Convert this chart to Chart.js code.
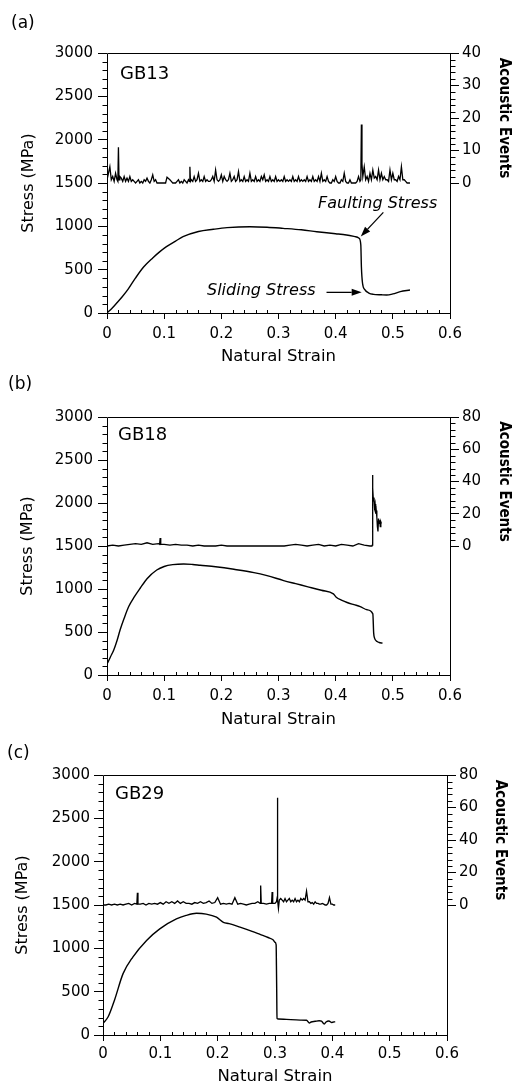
<!DOCTYPE html>
<html>
<head>
<meta charset="utf-8">
<script src="https://cdn.jsdelivr.net/npm/chart.js@4.4.1/dist/chart.umd.min.js"></script>
<style>
html,body{margin:0;padding:0;background:#fff;}
body{width:517px;height:1082px;position:relative;overflow:hidden;font-family:"DejaVu Sans",sans-serif;color:#000;}
canvas{position:absolute;left:0;display:block;}
.lbl{position:absolute;white-space:nowrap;line-height:1;color:#000;}
.pl{font-size:17px;}
.gb{font-size:18px;}
.an{font-size:16px;font-style:italic;}
</style>
</head>
<body>
<canvas id="cA" width="517" height="368" style="top:0px"></canvas>
<canvas id="cB" width="517" height="362" style="top:368px"></canvas>
<canvas id="cC" width="517" height="352" style="top:730px"></canvas>

<div class="lbl pl" id="plA" style="left:11px;top:14px"></div>
<div class="lbl pl" id="plB" style="left:8px;top:375px"></div>
<div class="lbl pl" id="plC" style="left:7px;top:744px"></div>
<div class="lbl gb" id="gbA" style="left:120px;top:63.8px"></div>
<div class="lbl gb" id="gbB" style="left:118px;top:425.3px"></div>
<div class="lbl gb" id="gbC" style="left:115px;top:784.3px"></div>
<div class="lbl an" style="left:318px;top:194.8px">Faulting Stress</div>
<div class="lbl an" style="left:207px;top:282.3px">Sliding Stress</div>

<script>
// ---------------- DATA ----------------
const xTickValues = [0, 0.1, 0.2, 0.3, 0.4, 0.5, 0.6];
const xTickLabels = ['0', '0.1', '0.2', '0.3', '0.4', '0.5', '0.6'];
const stressTickValues = [0, 500, 1000, 1500, 2000, 2500, 3000];
const stressTickLabels = ['0', '500', '1000', '1500', '2000', '2500', '3000'];
const aeTickValuesA = [0, 10, 20, 30, 40];
const aeTickLabelsA = ['0', '10', '20', '30', '40'];
const aeTickValuesBC = [0, 20, 40, 60, 80];
const aeTickLabelsBC = ['0', '20', '40', '60', '80'];
const panelLabels = ['(a)', '(b)', '(c)'];
const sampleNames = ['GB13', 'GB18', 'GB29'];

// GB13 stress (MPa) vs natural strain
const stressStrainA = [0, 0.008, 0.017, 0.027, 0.037, 0.05, 0.064, 0.08, 0.092, 0.104, 0.12, 0.133, 0.16, 0.186, 0.21, 0.25, 0.28, 0.308, 0.34, 0.367, 0.4, 0.419, 0.435, 0.441, 0.444, 0.445, 0.447, 0.451, 0.458, 0.466, 0.48, 0.489, 0.5, 0.513, 0.53];
const stressA = [0, 50, 115, 190, 275, 405, 530, 635, 705, 765, 830, 880, 940, 966, 985, 996, 990, 977, 960, 938, 915, 900, 880, 862, 785, 534, 343, 270, 230, 215, 210, 208, 220, 246, 265];
// GB13 acoustic events
const aeStrainA = [
  0, 0.0025, 0.005, 0.0075, 0.01, 0.0125, 0.015, 0.0175, 0.019, 0.02, 0.021, 0.0225, 0.025, 0.0275, 0.03, 0.0325, 0.035, 0.0375, 0.04, 0.0425, 0.045, 0.0475,
  0.05, 0.0525, 0.055, 0.0575, 0.06, 0.0625, 0.065, 0.0675, 0.07, 0.0725, 0.075, 0.0775, 0.08, 0.0825, 0.085, 0.0875, 0.09, 0.0925, 0.095, 0.0975,
  0.1, 0.1025, 0.105, 0.1075, 0.11, 0.1125, 0.115, 0.1175, 0.12, 0.1225, 0.125, 0.1275, 0.13, 0.1325, 0.135, 0.1375, 0.14, 0.1425, 0.144, 0.145, 0.146, 0.1475,
  0.15, 0.1525, 0.155, 0.1575, 0.16, 0.1625, 0.165, 0.1675, 0.17, 0.1725, 0.175, 0.1775, 0.18, 0.1825, 0.185, 0.1875, 0.19, 0.1925, 0.195, 0.1975,
  0.2, 0.2025, 0.205, 0.2075, 0.21, 0.2125, 0.215, 0.2175, 0.22, 0.2225, 0.225, 0.2275, 0.23, 0.2325, 0.235, 0.2375, 0.24, 0.2425, 0.245, 0.2475,
  0.25, 0.2525, 0.255, 0.2575, 0.26, 0.2625, 0.265, 0.2675, 0.27, 0.2725, 0.275, 0.2775, 0.28, 0.2825, 0.285, 0.2875, 0.29, 0.2925, 0.295, 0.2975,
  0.3, 0.3025, 0.305, 0.3075, 0.31, 0.3125, 0.315, 0.3175, 0.32, 0.3225, 0.325, 0.3275, 0.33, 0.3325, 0.335, 0.3375, 0.34, 0.3425, 0.345, 0.3475,
  0.35, 0.3525, 0.355, 0.3575, 0.36, 0.3625, 0.365, 0.3675, 0.37, 0.3725, 0.375, 0.3775, 0.38, 0.3825, 0.385, 0.3875, 0.39, 0.3925, 0.395, 0.3975,
  0.4, 0.4025, 0.405, 0.4075, 0.41, 0.4125, 0.415, 0.4175, 0.42, 0.4225, 0.425, 0.4275, 0.43, 0.4325, 0.435, 0.4375, 0.44, 0.4425, 0.444, 0.445, 0.446, 0.4475,
  0.45, 0.4525, 0.455, 0.4575, 0.46, 0.4625, 0.465, 0.4675, 0.47, 0.4725, 0.475, 0.4775, 0.48, 0.4825, 0.485, 0.4875, 0.49, 0.4925, 0.495, 0.4975,
  0.5, 0.5025, 0.505, 0.5075, 0.51, 0.5125, 0.515, 0.5175, 0.52, 0.5225, 0.525, 0.5275, 0.53];
const aeA = [
  1, 3, 5, 1, 2, 0.5, 3, 1, 0.5, 11, 1, 2, 1.5, 0.5, 2, 0.5, 1.5, 0.5, 2, 0.5, 1, 0.5,
  0, 0.5, 1, 0, 0.5, 0, 1, 0.5, 1.5, 0.5, 0, 1, 2.5, 0.5, 1, 0, 0, 0, 0, 0,
  0, 0, 1.8, 1.4, 1, 0.5, 0, 0, 0, 0.5, 1, 0, 0.5, 0, 1, 0.5, 0, 1, 0.5, 5, 0.5, 1,
  0.5, 2, 0.5, 1, 3, 0.5, 1, 0.5, 2, 0.5, 1, 0.5, 0.5, 1, 2, 0.5, 4, 1, 0.5, 1,
  2.5, 0.5, 2, 1, 0.5, 1, 3, 0.5, 1, 2, 0.5, 1, 3.5, 0.5, 1, 0.5, 2, 0.5, 1, 0.5,
  3, 0.5, 1, 0.5, 2, 0.5, 1, 0.5, 2, 1, 2.5, 0.5, 1, 0.5, 2, 0.5, 1, 0.5, 2, 0.5,
  1, 0.5, 1, 0.5, 2, 0.5, 1, 0.5, 1, 0.5, 2, 0.5, 1, 0.5, 2, 0.5, 1, 0.5, 1, 0.5,
  2, 0.5, 1, 0.5, 2, 0.5, 1, 0.5, 2, 0.5, 3, 0.5, 1, 0.5, 2, 0.5, 0, 0, 1, 0.5,
  2, 0.5, 0, 0, 1, 0.5, 3, 0.5, 0, 0, 1, 0, 0, 0, 0, 0.5, 2, 0.5, 1, 18, 6, 2,
  5, 1, 2, 0.5, 3, 1, 4, 1.5, 2, 1, 4, 1, 3, 1, 2, 1, 1, 0.5, 4, 1,
  3, 1, 1, 0.5, 2, 1, 5, 1, 1, 0.5, 0, 0, 0];

// GB18
const stressStrainB = [0.001, 0.006, 0.012, 0.018, 0.023, 0.03, 0.038, 0.048, 0.058, 0.07, 0.087, 0.1, 0.115, 0.134, 0.15, 0.163, 0.19, 0.222, 0.257, 0.28, 0.309, 0.33, 0.35, 0.375, 0.396, 0.401, 0.41, 0.42, 0.432, 0.443, 0.455, 0.465, 0.4665, 0.468, 0.4725, 0.476, 0.482];
const stressB = [139, 210, 294, 410, 526, 660, 796, 910, 1009, 1120, 1221, 1262, 1283, 1291, 1285, 1276, 1258, 1229, 1191, 1155, 1098, 1062, 1028, 985, 943, 905, 870, 843, 818, 796, 758, 711, 487, 429, 390, 378, 371];
const aeStrainB = [
  0, 0.01, 0.02, 0.03, 0.04, 0.05, 0.06, 0.07, 0.08, 0.09,
  0.092, 0.093, 0.094, 0.1, 0.11, 0.12, 0.13, 0.14, 0.15, 0.16,
  0.17, 0.18, 0.19, 0.2, 0.21, 0.22, 0.23, 0.24, 0.25, 0.26,
  0.27, 0.28, 0.29, 0.3, 0.31, 0.32, 0.33, 0.34, 0.35, 0.36,
  0.37, 0.38, 0.39, 0.4, 0.41, 0.42, 0.43, 0.44, 0.45, 0.46,
  0.4635, 0.464, 0.4645, 0.465, 0.466, 0.467, 0.468, 0.469, 0.47, 0.471,
  0.472, 0.473, 0.474, 0.475, 0.476, 0.477, 0.478, 0.479, 0.48];
const aeB = [
  0, 0.5, 0, 0.5, 1, 1.5, 1, 2, 1, 1.5,
  1, 5, 1, 1, 0.5, 1, 0.5, 0.5, 0, 0.5,
  0, 0, 0, 0.5, 0, 0, 0, 0, 0, 0,
  0, 0, 0, 0, 0, 0.5, 1, 0.5, 0, 0.5,
  1, 0, 0.5, 0, 1, 0.5, 0, 1.5, 0.5, 0,
  0, 0.5, 44, 36, 28, 30, 24, 26, 20, 22,
  18, 12, 9, 17, 14, 16, 12, 15, 14];

// GB29
const stressStrainC = [0, 0.009, 0.02, 0.035, 0.052, 0.076, 0.099, 0.128, 0.145, 0.163, 0.18, 0.198, 0.21, 0.22, 0.239, 0.26, 0.274, 0.288, 0.297, 0.3, 0.302, 0.3025, 0.303, 0.3035, 0.306, 0.32, 0.344, 0.355, 0.36, 0.363, 0.37, 0.377, 0.381, 0.386, 0.389, 0.394, 0.399, 0.405];
const stressC = [134, 210, 402, 708, 899, 1091, 1225, 1339, 1380, 1404, 1395, 1359, 1300, 1285, 1244, 1195, 1160, 1125, 1096, 1070, 1040, 800, 500, 193, 185, 180, 172, 170, 138, 150, 158, 165, 160, 127, 150, 162, 145, 155];
const aeStrainC = [
  0, 0.005, 0.01, 0.015, 0.02, 0.025, 0.03, 0.035, 0.04, 0.045,
  0.05, 0.055, 0.059, 0.06, 0.061, 0.065, 0.07, 0.075, 0.08, 0.085, 0.09, 0.095,
  0.1, 0.105, 0.11, 0.115, 0.12, 0.125, 0.13, 0.135, 0.14, 0.145,
  0.15, 0.155, 0.16, 0.165, 0.17, 0.175, 0.18, 0.185, 0.19, 0.195,
  0.2, 0.205, 0.21, 0.215, 0.22, 0.225, 0.23, 0.235, 0.24, 0.245,
  0.25, 0.255, 0.26, 0.265, 0.27, 0.274, 0.275, 0.276, 0.28, 0.285, 0.29, 0.294, 0.295, 0.296,
  0.3, 0.3025, 0.303, 0.3035, 0.304, 0.3045, 0.305, 0.306, 0.3075, 0.31, 0.3125, 0.315, 0.3175, 0.32, 0.3225, 0.325, 0.3275, 0.33, 0.3325, 0.335, 0.3375,
  0.34, 0.3425, 0.345, 0.3475, 0.35, 0.3525, 0.355, 0.3575, 0.36, 0.3625, 0.365, 0.3675, 0.37, 0.3725, 0.375, 0.3775, 0.38, 0.3825, 0.385, 0.3875,
  0.39, 0.3925, 0.395, 0.3975, 0.4, 0.4025, 0.405];
const aeC = [
  0, 0, 0.5, 0, 0.5, 0, 0.5, 0, 0.5, 1,
  0, 1, 0.5, 7.5, 0.5, 0.5, 1, 0, 1, 0.5, 1, 0.5,
  1.5, 0.5, 2, 1, 2, 1, 2.5, 1, 2, 1,
  1, 0.5, 1.5, 1, 2, 1, 1.5, 2.5, 1, 1.5,
  4.5, 0.5, 1, 0.5, 1, 0.5, 4.5, 0.5, 1, 0.5,
  0, 0.5, 1, 1, 2, 1, 12, 1, 1, 0.5, 1, 1, 8, 1,
  1, 2, 2, 4, 66, 10, 3, -2, 3, 4, 3, 2, 4, 2, 3, 4, 2, 3, 2, 4, 2,
  3, 2, 4, 3, 4, 3, 8.5, 2, 2, 1, 1.5, 0.5, 2, 1, 1, 0.5, 0.5, 1, 0.5, 0,
  0, 1, 4.5, 0.5, 0.5, 0, 0];

// Annotation arrows on GB13 (data coordinates: strain, stress)
const faultArrow = [[0.4834, 1161], [0.4439, 884]];
const slideArrow = [[0.384, 238], [0.4455, 238]];

// ---------------- RENDER ----------------
document.getElementById('plA').textContent = panelLabels[0];
document.getElementById('plB').textContent = panelLabels[1];
document.getElementById('plC').textContent = panelLabels[2];
document.getElementById('gbA').textContent = sampleNames[0];
document.getElementById('gbB').textContent = sampleNames[1];
document.getElementById('gbC').textContent = sampleNames[2];

const FAM = '"DejaVu Sans", sans-serif';
Chart.defaults.font.family = FAM;
Chart.defaults.color = '#000';

const decor = {
  id: 'decor',
  afterDraw(chart) {
    const o = chart.options.plugins.decor;
    const {ctx, chartArea: a} = chart;
    const sx = chart.scales.x, sy = chart.scales.y, s2 = chart.scales.y2;
    const L = Math.round(a.left) + 0.5, R = Math.round(a.right) + 0.5;
    const T = Math.round(a.top) + 0.5, B = Math.round(a.bottom) + 0.5;
    ctx.save();
    ctx.strokeStyle = '#000';
    ctx.lineWidth = 1;
    ctx.beginPath();
    ctx.rect(L, T, R - L, B - T);
    // minor x ticks (inward)
    for (let k = 1; k < 30; k++) {
      if (k % 5 === 0) continue;
      const px = Math.round(sx.getPixelForValue(k * 0.02)) + 0.5;
      ctx.moveTo(px, B); ctx.lineTo(px, B - 3.5);
    }
    // minor left ticks (outward)
    for (let k = 1; k < 30; k++) {
      if (k % 5 === 0) continue;
      const py = Math.round(sy.getPixelForValue(k * 100)) + 0.5;
      ctx.moveTo(L, py); ctx.lineTo(L - 5, py);
    }
    // minor right ticks (outward, upper half only)
    const nMinor = Math.round(o.aeMax / o.aeMinor);
    const per = Math.round(o.aeMajor / o.aeMinor);
    for (let k = 1; k < nMinor; k++) {
      if (k % per === 0) continue;
      const py = Math.round(s2.getPixelForValue(k * o.aeMinor)) + 0.5;
      ctx.moveTo(R, py); ctx.lineTo(R + 5, py);
    }
    ctx.stroke();

    // right axis title
    ctx.fillStyle = '#000';
    ctx.font = 'bold 15px "DejaVu Sans Condensed", "DejaVu Sans", sans-serif';
    ctx.textAlign = 'center';
    ctx.textBaseline = 'middle';
    ctx.save();
    ctx.translate(o.rightTitleX, (s2.getPixelForValue(0) + s2.getPixelForValue(o.aeMax)) / 2);
    ctx.rotate(Math.PI / 2);
    ctx.fillText('Acoustic Events', 0, 0);
    ctx.restore();

    // arrows
    (o.arrows || []).forEach(ar => {
      const x1 = sx.getPixelForValue(ar[0][0]), y1 = sy.getPixelForValue(ar[0][1]);
      const x2 = sx.getPixelForValue(ar[1][0]), y2 = sy.getPixelForValue(ar[1][1]);
      const ang = Math.atan2(y2 - y1, x2 - x1);
      const hl = 10, hw = 3.5;
      const bx = x2 - hl * Math.cos(ang), by = y2 - hl * Math.sin(ang);
      ctx.beginPath();
      ctx.lineWidth = 1.3;
      ctx.moveTo(x1, y1); ctx.lineTo(bx, by);
      ctx.stroke();
      ctx.beginPath();
      ctx.moveTo(x2, y2);
      ctx.lineTo(bx + hw * Math.sin(ang), by - hw * Math.cos(ang));
      ctx.lineTo(bx - hw * Math.sin(ang), by + hw * Math.cos(ang));
      ctx.closePath();
      ctx.fill();
    });
    ctx.restore();
  }
};

function pts(xs, ys) { return xs.map((x, i) => ({x: x, y: ys[i]})); }

function makePanel(p) {
  const tickFont = {family: FAM, size: 15};
  return new Chart(document.getElementById(p.id), {
    type: 'line',
    data: {
      datasets: [
        {label: 'Stress', data: pts(p.sx, p.sy), yAxisID: 'y', borderColor: '#000', borderWidth: 1.4,
         pointRadius: 0, cubicInterpolationMode: 'monotone', fill: false},
        {label: 'Acoustic events', data: pts(p.ax, p.ay), yAxisID: 'y2', borderColor: '#000', borderWidth: 1.3,
         pointRadius: 0, tension: 0, fill: false}
      ]
    },
    options: {
      responsive: false, animation: false, events: [],
      layout: {padding: {top: p.top - p.canvasTop, left: 0, right: 0, bottom: 0}},
      plugins: {
        legend: {display: false}, tooltip: {enabled: false},
        decor: {aeMax: p.aeMax, aeMajor: p.aeMajor, aeMinor: p.aeMinor, rightTitleX: p.rightTitleX, arrows: p.arrows}
      },
      scales: {
        x: {
          type: 'linear', position: 'bottom', min: 0, max: 0.6,
          afterBuildTicks: s => { s.ticks = xTickValues.map(v => ({value: v})); },
          afterFit: s => { s.height = p.canvasH - (p.bottom - p.canvasTop); },
          ticks: {color: '#000', font: tickFont, padding: p.xTickPad, maxRotation: 0, autoSkip: false,
                  callback: (v, i) => xTickLabels[i]},
          grid: {display: true, drawOnChartArea: false, drawTicks: true, tickLength: 6, tickColor: '#000', tickWidth: 1, color: '#000'},
          border: {display: false},
          title: {display: true, text: 'Natural Strain', color: '#000',
                  font: {family: FAM, size: 16.5, lineHeight: (2 * p.xTitleOff) + 'px'}, padding: 0}
        },
        y: {
          type: 'linear', position: 'left', min: 0, max: 3000,
          afterBuildTicks: s => { s.ticks = stressTickValues.map(v => ({value: v})); },
          afterFit: s => { s.width = p.left; },
          ticks: {color: '#000', font: tickFont, padding: p.yTickPad, autoSkip: false,
                  callback: (v, i) => stressTickLabels[i]},
          grid: {display: true, drawOnChartArea: false, drawTicks: true, tickLength: 9, tickColor: '#000', tickWidth: 1, color: '#000'},
          border: {display: false},
          title: {display: true, text: 'Stress (MPa)', color: '#000',
                  font: {family: FAM, size: 16, lineHeight: (2 * p.yTitleX) + 'px'}, padding: 0}
        },
        y2: {
          type: 'linear', position: 'right', min: -p.aeMax, max: p.aeMax,
          afterBuildTicks: s => { s.ticks = p.aeTicks.map(v => ({value: v})); },
          afterFit: s => { s.width = 517 - p.right; },
          ticks: {color: '#000', font: tickFont, padding: 3, autoSkip: false,
                  callback: (v, i) => p.aeLabels[i]},
          grid: {display: true, drawOnChartArea: false, drawTicks: true, tickLength: 9, tickColor: '#000', tickWidth: 1, color: '#000'},
          border: {display: false}
        }
      }
    },
    plugins: [decor]
  });
}

makePanel({id: 'cA', canvasTop: 0, canvasH: 368, top: 53, bottom: 313, left: 107, right: 450,
  sx: stressStrainA, sy: stressA, ax: aeStrainA, ay: aeA,
  aeMax: 40, aeMajor: 10, aeMinor: 2, aeTicks: aeTickValuesA, aeLabels: aeTickLabelsA,
  xTitleOff: 11, yTitleX: 28.5, rightTitleX: 503.5, xTickPad: 6, yTickPad: 5,
  arrows: [faultArrow, slideArrow]});
makePanel({id: 'cB', canvasTop: 368, canvasH: 362, top: 417, bottom: 675, left: 107, right: 450,
  sx: stressStrainB, sy: stressB, ax: aeStrainB, ay: aeB,
  aeMax: 80, aeMajor: 20, aeMinor: 4, aeTicks: aeTickValuesBC, aeLabels: aeTickLabelsBC,
  xTitleOff: 10.5, yTitleX: 27.5, rightTitleX: 503.5, xTickPad: 6, yTickPad: 5, arrows: []});
makePanel({id: 'cC', canvasTop: 730, canvasH: 352, top: 775, bottom: 1035, left: 103, right: 447,
  sx: stressStrainC, sy: stressC, ax: aeStrainC, ay: aeC,
  aeMax: 80, aeMajor: 20, aeMinor: 4, aeTicks: aeTickValuesBC, aeLabels: aeTickLabelsBC,
  xTitleOff: 5.5, yTitleX: 22.5, rightTitleX: 499.5, xTickPad: 4, yTickPad: 4, arrows: []});
</script>
</body>
</html>
